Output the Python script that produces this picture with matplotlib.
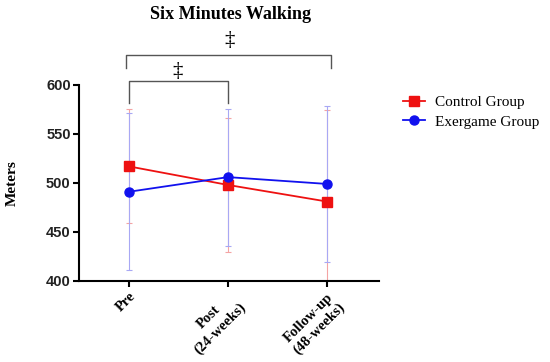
import matplotlib
matplotlib.use("Agg")
import matplotlib.pyplot as plt
import numpy as np

# data
timepoints = ["Pre", "Post\n(24-weeks)", "Follow-up\n(48-weeks)"]
control_mean = [517, 498, 481]
control_sd = [58, 68, 93]
exergame_mean = [491, 506, 499]
exergame_sd = [80, 70, 80]

serif = "Liberation Serif"
sans = "Liberation Sans"

fig = plt.figure(figsize=(5.5, 3.62), dpi=100)
ax = fig.add_axes([0.1436, 0.2238, 0.5455, 0.5414])
x = np.arange(len(timepoints))

# faint error bars first
ax.errorbar(x, control_mean, yerr=control_sd, fmt="none", ecolor="#f4a4a4",
            elinewidth=0.8, capsize=2, capthick=0.8, zorder=2)
ax.errorbar(x, exergame_mean, yerr=exergame_sd, fmt="none", ecolor="#a8a8f4",
            elinewidth=0.8, capsize=2, capthick=0.8, zorder=2)

ax.plot(x, control_mean, color="#ee1111", marker="s", markersize=6.5,
        linewidth=1.3, label="Control Group", zorder=3)
ax.plot(x, exergame_mean, color="#1111ee", marker="o", markersize=6.5,
        linewidth=1.3, label="Exergame Group", zorder=4)

ax.set_xlim(-0.5, 2.52)
ax.set_ylim(400, 600)
ax.set_yticks([400, 450, 500, 550, 600])
ax.set_xticks(x)
ax.set_xticklabels(timepoints, rotation=45, ha="right", va="top",
                   rotation_mode="anchor", multialignment="center",
                   family=serif, fontweight="bold", fontsize=10.5)
for lab in ax.get_yticklabels():
    lab.set_family(sans)
    lab.set_fontweight("bold")
    lab.set_fontsize(10.5)
    lab.set_color("#222222")

for s in ["top", "right"]:
    ax.spines[s].set_visible(False)
for s in ["left", "bottom"]:
    ax.spines[s].set_linewidth(1.5)
ax.tick_params(axis="both", width=1.5, length=4, pad=2)

fig.text(12 / 550, 1 - 183 / 362, "Meters", rotation=90, ha="center",
         va="center", family=serif, fontweight="bold", fontsize=11)

# significance brackets
bc = "#555555"
ax.plot([0, 0, 1, 1], [582, 604, 604, 582], color=bc, lw=1, clip_on=False)
ax.text(0.49, 614, "\u2021", ha="center", va="center", fontsize=15,
        family=serif, clip_on=False)
ax.plot([-0.03, -0.03, 2.04, 2.04], [617, 631, 631, 617], color=bc, lw=1,
        clip_on=False)
ax.text(1.02, 645, "\u2021", ha="center", va="center", fontsize=15,
        family=serif, clip_on=False)

fig.text(0.42, 0.96, "Six Minutes Walking", ha="center", va="center",
         family=serif, fontweight="bold", fontsize=13)

fig.legend(loc="upper left", bbox_to_anchor=(0.708, 0.775), frameon=False,
           prop={"family": serif, "size": 11}, handlelength=1.4,
           handletextpad=0.7, labelspacing=0.4)

fig.savefig("out.png", dpi=100)
